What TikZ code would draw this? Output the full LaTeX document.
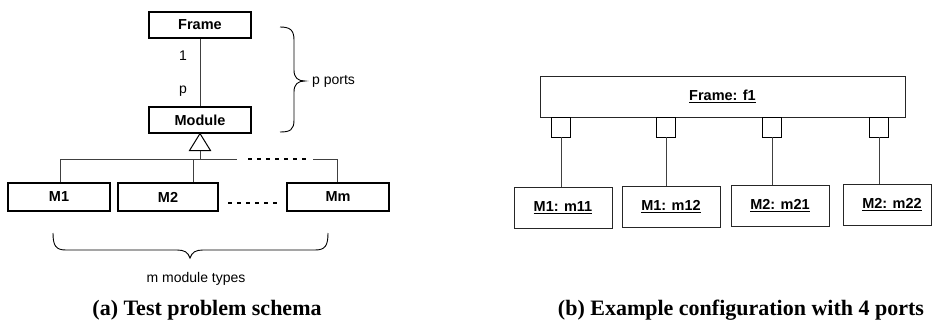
\documentclass[tikz,border=0pt]{standalone}
\usepackage{fontspec}
\usetikzlibrary{calc}
\setmainfont{Liberation Serif}
\newfontfamily\hv{Liberation Sans}
\begin{document}
\begin{tikzpicture}[x=1pt,y=-1pt,
  cls/.style={draw=black,line width=1.1pt,inner sep=0pt,font=\hv\fontsize{14.5}{17}\selectfont\bfseries},
  inst/.style={draw=black!85,line width=0.9pt,inner sep=0pt,minimum width=98pt,minimum height=41pt,font=\hv\fontsize{14.5}{17}\selectfont\bfseries},
  port/.style={draw=black,line width=0.9pt,inner sep=0pt,minimum width=19pt,minimum height=20pt},
  conn/.style={draw=black!75,line width=0.9pt},
  dots/.style={draw=black,line width=2pt,dash pattern=on 4pt off 5pt},
  lbl/.style={font=\hv\fontsize{14}{16}\selectfont,inner sep=0pt},
  captxt/.style={font=\fontsize{22}{26}\selectfont\bfseries,inner sep=0pt,anchor=base}]
\useasboundingbox (0,0) rectangle (932,334);
% ---------- (a) ----------
\node[cls,minimum width=102pt,minimum height=26pt] (frame) at (200,25) {Frame};
\node[cls,minimum width=102pt,minimum height=26pt] (module) at (200,120) {Module};
\draw[conn] (frame) -- (module);
\node[lbl] (one) at (183,56) {1};
\node[lbl] (pp) at (183,91) {p};
\coordinate (tapex) at (module.south);
\coordinate (tbase) at ($(module.south)+(0,17)$);
\draw[line width=1pt,fill=white] (tapex) -- ($(tbase)+(-10.5,0)$) -- ($(tbase)+(10.5,0)$) -- cycle;
\node[cls,minimum width=102pt,minimum height=28pt] (m1) at (59,197) {M1};
\node[cls,minimum width=100pt,minimum height=28pt] (m2) at (168,197) {M2};
\node[cls,minimum width=102pt,minimum height=28pt] (mm) at (338,197) {Mm};
\coordinate (hj) at (200,159);
\coordinate (h1) at (60,159);
\coordinate (h2) at (193,159);
\coordinate (hm) at (337,159);
\coordinate (da) at (237,159);
\coordinate (db) at (313,159);
\draw[conn] (tbase) -- (hj);
\draw[conn] (m1.north -| h1) -- (h1) -- (da);
\draw[conn] (m2.north -| h2) -- (h2);
\draw[dots] (248,159) -- (310,159);
\draw[conn] (db) -- (hm) -- (mm.north -| hm);
\draw[dots] (228,203) -- (280,203);
% braces
\draw[line width=0.9pt] (280,27) .. controls (290,27) and (294,30) .. (294,40) -- (294,70)
  .. controls (294,78) and (298,81) .. (305,81) .. controls (298,81) and (294,84) .. (294,92)
  -- (294,120) .. controls (294,130) and (290,132) .. (280,132);
\node[lbl,anchor=west] (pports) at (312,81) {p ports};
\draw[line width=0.9pt] (53,233) .. controls (53,246) and (56,250) .. (66,250) -- (177,250)
  .. controls (184,250) and (188,252) .. (190,258) .. controls (192,252) and (196,250) .. (203,250)
  -- (315,250) .. controls (325,250) and (328,246) .. (328,233);
\node[lbl] (mtypes) at (196,279) {m module types};
\node[captxt] (capa) at (207,315) {(a) Test problem schema};
% ---------- (b) ----------
\node[inst,minimum width=365pt,minimum height=41pt] (f1) at (722.5,96.5) {\underline{Frame: f1}};
\node[port] (p1) at (561,127) {};
\node[port] (p2) at (666,127) {};
\node[port] (p3) at (772,127) {};
\node[port] (p4) at (879,127) {};
\node[inst] (i1) at (563,207.5) {\underline{M1: m11}};
\node[inst] (i2) at (671,206.5) {\underline{M1: m12}};
\node[inst] (i3) at (780,205.5) {\underline{M2: m21}};
\node[inst,minimum width=88pt] (i4) at (887,204.5) {};
\node[font=\hv\fontsize{14.5}{17}\selectfont\bfseries,inner sep=0pt] (i4t) at (892,204.5) {\underline{M2: m22}};
\draw[conn] (p1.south) -- (p1.south |- i1.north);
\draw[conn] (p2.south) -- (p2.south |- i2.north);
\draw[conn] (p3.south) -- (p3.south |- i3.north);
\draw[conn] (p4.south) -- (p4.south |- i4.north);
\node[captxt] (capb) at (741,315) {(b) Example configuration with 4 ports};
\end{tikzpicture}
\end{document}
